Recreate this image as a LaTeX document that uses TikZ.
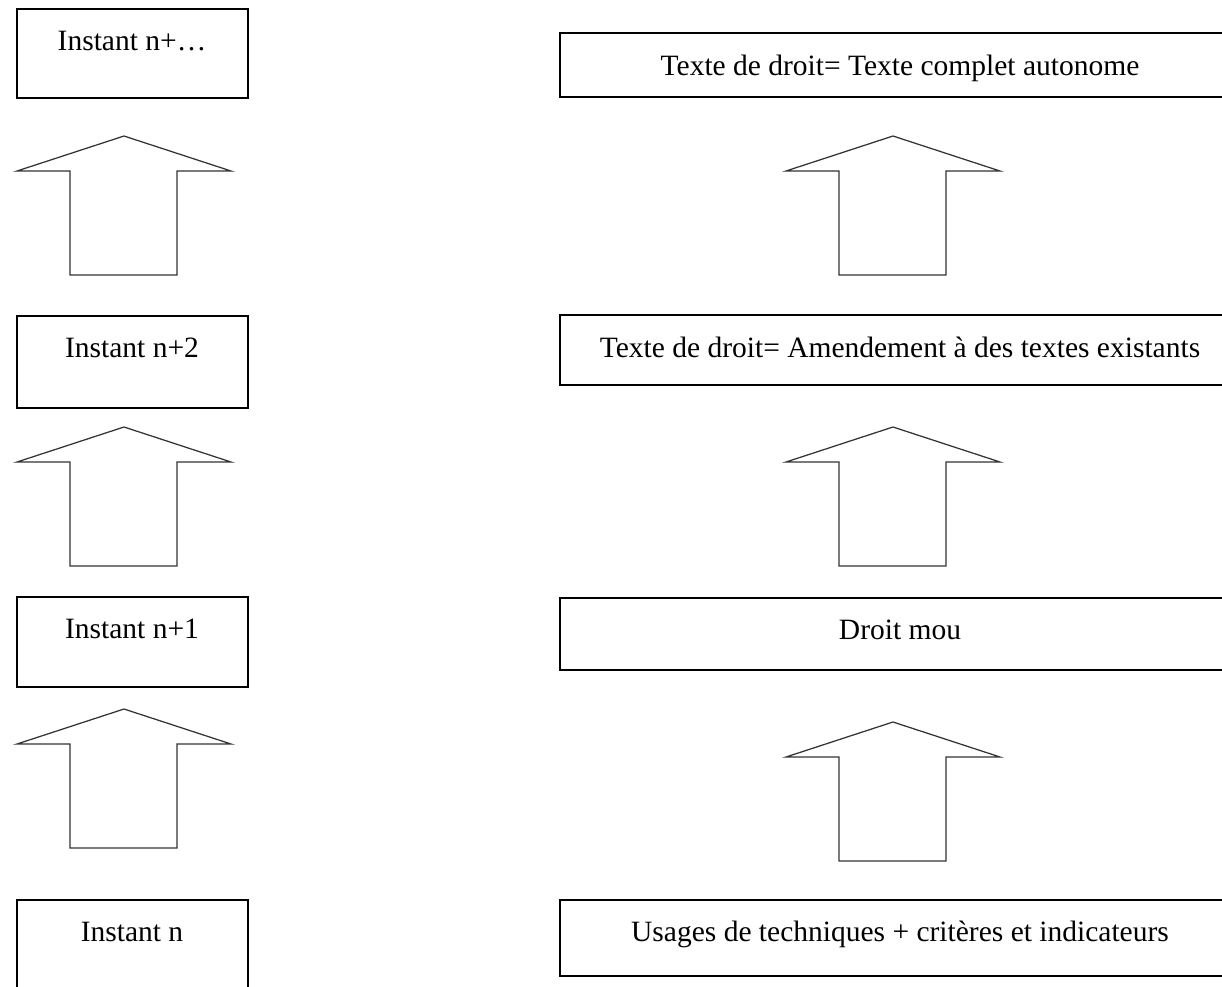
\documentclass[tikz,border=0pt]{standalone}
\usepackage{fontspec}
\setmainfont{Liberation Serif}
\begin{document}
\begin{tikzpicture}[x=0.4pt,y=-0.4pt,
  box/.style={draw, line width=0.65pt, inner sep=0pt},
  lbl/.style={anchor=base, inner sep=0pt, font=\fontsize{11.8pt}{14pt}\selectfont},
  blockarrow/.style={draw=black!80, line width=0.5pt, line join=miter}]
\path[use as bounding box] (0,0) rectangle (1222,987);
\clip (0,0) rectangle (1222,987);
% left column boxes
\node[box, minimum width={231*0.4pt}, minimum height={89*0.4pt}] (b1) at (132.5,53.5) {};
\node[box, minimum width={231*0.4pt}, minimum height={92*0.4pt}] (b2) at (132.5,362) {};
\node[box, minimum width={231*0.4pt}, minimum height={90*0.4pt}] (b3) at (132.5,642) {};
\node[box, minimum width={231*0.4pt}, minimum height={90*0.4pt}] (b4) at (132.5,945) {};
\node[lbl] (t1) at (132,50) {Instant n+…};
\node[lbl] (t2) at (132,357) {Instant n+2};
\node[lbl] (t3) at (132,638) {Instant n+1};
\node[lbl] (t4) at (132,941) {Instant n};
% right column boxes
\node[box, minimum width={680*0.4pt}, minimum height={64*0.4pt}] (r1) at (900,65) {};
\node[box, minimum width={680*0.4pt}, minimum height={70*0.4pt}] (r2) at (900,350) {};
\node[box, minimum width={680*0.4pt}, minimum height={72*0.4pt}] (r3) at (900,634) {};
\node[box, minimum width={680*0.4pt}, minimum height={76*0.4pt}] (r4) at (900,938) {};
\node[lbl] (s1) at (900,75) {Texte de droit= Texte complet autonome};
\node[lbl] (s2) at (900,357) {Texte de droit= Amendement à des textes existants};
\node[lbl] (s3) at (900,639) {Droit mou};
\node[lbl] (s4) at (900,941) {Usages de techniques + critères et indicateurs};
% block arrows (tip x, tip y)
\foreach \tx/\ty in {124/136, 124/427, 124/709, 893/136, 893/427, 893/722}{
  \draw[blockarrow] (\tx,\ty) -- ++(107,35) -- ++(-54,0) -- ++(0,104) -- ++(-107,0)
     -- ++(0,-104) -- ++(-53,0) -- cycle;
}
\end{tikzpicture}
\end{document}
